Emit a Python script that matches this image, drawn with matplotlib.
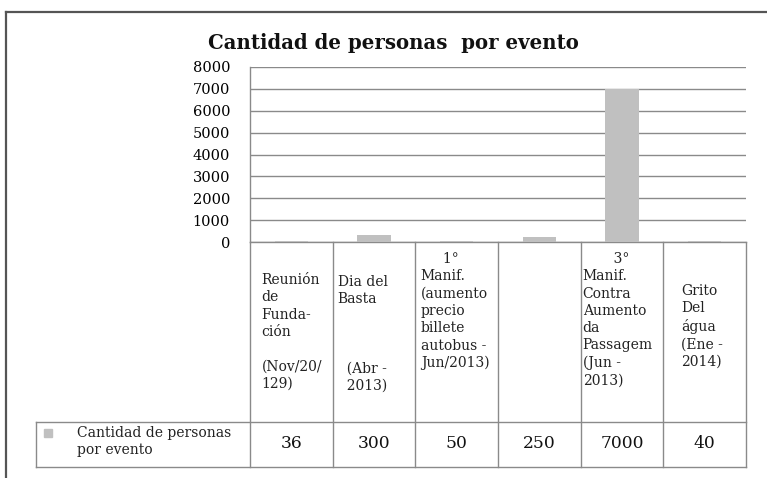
import matplotlib
matplotlib.use("Agg")
import matplotlib.pyplot as plt
from matplotlib.transforms import blended_transform_factory

# ---- data ----
categories = [
    "Reunión\nde\nFunda-\nción\n\n(Nov/20/\n129)",
    "Dia del\nBasta\n\n\n\n  (Abr -\n  2013)",
    "     1°\nManif.\n(aumento\nprecio\nbillete\nautobus -\nJun/2013)",
    "",
    "       3°\nManif.\nContra\nAumento\nda\nPassagem\n(Jun -\n2013)",
    "Grito\nDel\nágua\n(Ene -\n2014)",
]
values = [36, 300, 50, 250, 7000, 40]
value_labels = ["36", "300", "50", "250", "7000", "40"]
series_name = "Cantidad de personas\npor evento"
title = "Cantidad de personas  por evento"
yticks = [0, 1000, 2000, 3000, 4000, 5000, 6000, 7000, 8000]

# ---- layout (pixels of a 767x478 canvas) ----
W, H = 767, 478
FONT = "DejaVu Serif"
GRID = "#8a8a8a"
BAR = "#c0c0c0"

fig = plt.figure(figsize=(W / 100, H / 100), dpi=100)
ax_left, ax_right, ax_top, ax_bottom = 250, 746, 67, 242
ax = fig.add_axes([ax_left / W, 1 - ax_bottom / H,
                   (ax_right - ax_left) / W, (ax_bottom - ax_top) / H])

x = list(range(len(values)))
ax.bar(x, values, width=0.4, color=BAR, zorder=3)
ax.set_xlim(-0.5, len(values) - 0.5)
ax.set_ylim(0, 8000)
ax.set_yticks(yticks)
ax.set_yticklabels([str(t) for t in yticks], fontfamily=FONT, fontsize=10.5)
ax.tick_params(axis="y", length=0, pad=14.4)
ax.set_xticks([])
ax.yaxis.grid(True, color=GRID, linewidth=1.0, zorder=0)
ax.set_axisbelow(True)
for s in ["top", "right"]:
    ax.spines[s].set_visible(False)
ax.spines["left"].set_color(GRID)
ax.spines["bottom"].set_color(GRID)
ax.spines["left"].set_linewidth(1.0)
ax.spines["bottom"].set_linewidth(1.0)

def fy(py):
    return 1 - py / H

def fx(px):
    return px / W

tr = blended_transform_factory(ax.transData, fig.transFigure)

# ---- data table lines ----
row_top, row_sep, row_bot = 242, 422, 467
legend_left = 36
for i in range(len(values) + 1):
    xv = i - 0.5
    ax.plot([xv, xv], [fy(row_top), fy(row_bot)], color=GRID, lw=1.0,
            transform=tr, clip_on=False, zorder=2)
for py in (row_sep, row_bot):
    fig.add_artist(plt.Line2D([fx(legend_left), fx(ax_right)], [fy(py), fy(py)],
                              color=GRID, lw=1.0))
fig.add_artist(plt.Line2D([fx(legend_left), fx(legend_left)], [fy(row_sep), fy(row_bot)],
                          color=GRID, lw=1.0))

# ---- category labels (left edge offset inside each cell, top of first line) ----
col_w = (ax_right - ax_left) / len(values)
label_left = [11.5, 5, 5.5, 5, 2, 17.5]
label_top = [273, 275, 252, 273, 252, 284]
for i, lab in enumerate(categories):
    if not lab:
        continue
    ax.text(fx(ax_left + i * col_w + label_left[i]), fy(label_top[i]), lab,
            transform=fig.transFigure, ha="left", va="top",
            multialignment="left", fontfamily=FONT, fontsize=10,
            linespacing=1.3, color="#222222")

# ---- values row ----
for i, v in enumerate(value_labels):
    ax.text(i, fy(443.5), v, transform=tr, ha="center", va="center",
            fontfamily=FONT, fontsize=12.3, color="#111111")

# ---- legend cell ----
fig.add_artist(plt.Rectangle((fx(43.5), fy(437)), 8.5 / W, 8.5 / H, color=BAR,
                             transform=fig.transFigure))
fig.text(fx(77), fy(441.5), series_name, ha="left", va="center",
         fontfamily=FONT, fontsize=10, linespacing=1.22, color="#222222")

# ---- title ----
fig.text(fx(393), fy(43), title, ha="center", va="center",
         fontfamily=FONT, fontsize=14.2, fontweight="bold", color="#111111")

# ---- outer border ----
fig.add_artist(plt.Line2D([fx(6), fx(767)], [fy(12), fy(12)], color="#555555", lw=1.6))
fig.add_artist(plt.Line2D([fx(6), fx(6)], [fy(12), fy(478)], color="#555555", lw=1.6))

fig.savefig("out.png", dpi=100, facecolor="white")
